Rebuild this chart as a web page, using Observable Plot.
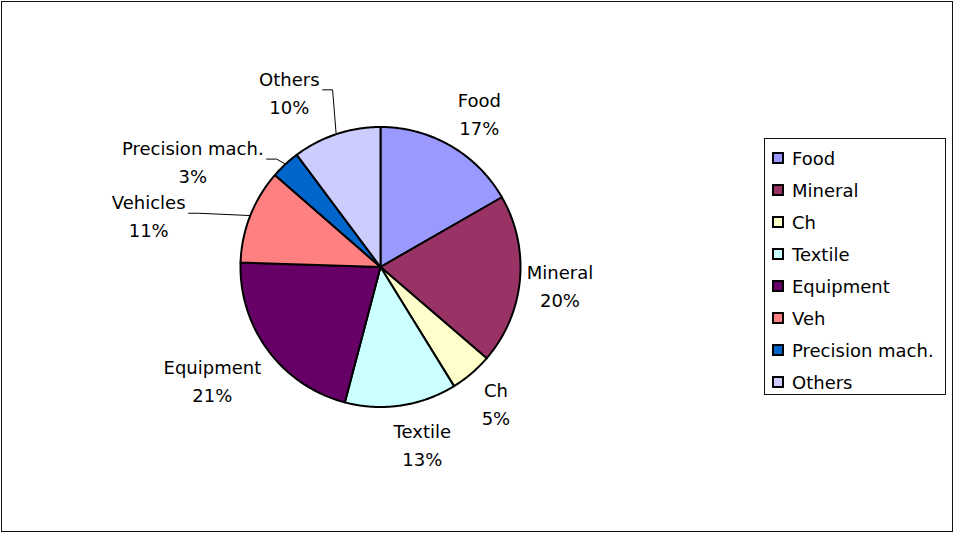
<!DOCTYPE html>
<html><head><meta charset="utf-8">
<script src="https://cdn.jsdelivr.net/npm/d3@7"></script>
<script src="https://cdn.jsdelivr.net/npm/@observablehq/plot@0.6"></script>
<style>
body{margin:0;background:#fff;}
#wrap{position:relative;width:954px;height:533px;overflow:hidden;background:#fff;}
#border{position:absolute;left:1px;top:1px;width:952px;height:531px;border:1px solid #111;box-sizing:border-box;pointer-events:none;}
#legend{position:absolute;left:764px;top:138px;width:182px;height:257px;border:1px solid #111;box-sizing:border-box;background:#fff;font-family:"DejaVu Sans";font-size:18px;color:#000;}
.item{position:absolute;left:0;height:32px;display:flex;align-items:center;white-space:nowrap;}
.sw{width:12px;height:12px;border:2px solid #000;box-sizing:border-box;margin-left:7px;margin-right:8px;}
</style></head>
<body>
<div id="wrap"><div id="chart"></div><div id="legend"></div><div id="border"></div></div>
<script>
// ---- data ----
const categories = ["Food","Mineral","Ch","Textile","Equipment","Vehicles","Precision mach.","Others"];
const legendLabels = ["Food","Mineral","Ch","Textile","Equipment","Veh","Precision mach.","Others"];
const shares = [16.7, 19.6, 4.9, 12.9, 21.4, 10.9, 3.4, 10.2];
const percentLabels = ["17%","20%","5%","13%","21%","11%","3%","10%"];
const colors = ["#9999FF","#993366","#FFFFCC","#CCFFFF","#660066","#FF8080","#0066CC","#CCCCFF"];

// ---- layout ----
const W = 954, H = 533, cx = 380, cy = 266.5, R = 140;
const FONT = "DejaVu Sans", FS = 18, LH = 28;
const labelGap = 11;               // gap between arc and label box
const leaderLabels = ["Vehicles", "Precision mach.", "Others"];
const nudge = {                    // label adjustments: [angle shift deg, extra px]
  "Food": [2.5, 2],
  "Mineral": [0, -6],
  "Textile": [-4.9, 3],
  "Equipment": [3.1, -2],
  "Vehicles": [-8.6, 44],
  "Precision mach.": [-17.5, 0],
  "Others": [-9, 16]
};

const arcs = d3.pie().sort(null).value(d => d).startAngle(0).endAngle(2 * Math.PI)(shares);

// slice polygons in unit coordinates
const slicePts = [];
arcs.forEach((a, i) => {
  const name = categories[i];
  slicePts.push({name, x: 0, y: 0});
  const n = Math.max(2, Math.ceil((a.endAngle - a.startAngle) / 0.01));
  for (let k = 0; k <= n; k++) {
    const t = a.startAngle + (a.endAngle - a.startAngle) * k / n;
    slicePts.push({name, x: Math.sin(t), y: Math.cos(t)});
  }
  slicePts.push({name, x: 0, y: 0});
});

// label placement
const ctx = document.createElement("canvas").getContext("2d");
ctx.font = `${FS}px "${FONT}"`;
const labels = [], leaders = [];
arcs.forEach((a, i) => {
  const name = categories[i];
  const w = Math.max(ctx.measureText(name).width, ctx.measureText(percentLabels[i]).width);
  const h = LH + FS;
  const th = (a.startAngle + a.endAngle) / 2;
  let dist = R + labelGap + Math.abs(Math.sin(th)) * w / 2 + Math.abs(Math.cos(th)) * h / 2;
  let ang = th;
  if (nudge[name]) {
    ang = th + nudge[name][0] * Math.PI / 180;
    dist += nudge[name][1];
  }
  const px = Math.sin(ang) * dist, py = -Math.cos(ang) * dist; // screen offsets
  labels.push({x: px / R, y: -py / R, text: name + "\n" + percentLabels[i]});
  if (leaderLabels.includes(name)) {
    const sx = px + w / 2 + 3, sy = py - 1;
    const ex = Math.sin(th) * (R + 1), ey = -Math.cos(th) * (R + 1);
    [[sx, sy], [sx + 10, sy], [ex, ey]].forEach(([X, Y]) => leaders.push({name, x: X / R, y: -Y / R}));
  }
});

const plot = Plot.plot({
  width: W, height: H,
  marginTop: 0, marginRight: 0, marginBottom: 0, marginLeft: 0,
  x: {domain: [-1, 1], range: [cx - R, cx + R], axis: null},
  y: {domain: [-1, 1], range: [cy + R, cy - R], axis: null},
  color: {type: "ordinal", domain: categories, range: colors},
  style: {background: "transparent"},
  marks: [
    Plot.line(slicePts, {x: "x", y: "y", z: "name", fill: "name", stroke: "#000", strokeWidth: 2, strokeLinejoin: "round"}),
    Plot.line(leaders, {x: "x", y: "y", z: "name", stroke: "#000", strokeWidth: 1}),
    Plot.text(labels, {x: "x", y: "y", text: "text", fontSize: FS, fontFamily: FONT, lineHeight: LH / FS, lineAnchor: "middle", textAnchor: "middle", fill: "#000"})
  ]
});
document.getElementById("chart").appendChild(plot);

// legend
const leg = document.getElementById("legend");
legendLabels.forEach((lab, i) => {
  const it = document.createElement("div");
  it.className = "item";
  it.style.top = (3 + i * 32) + "px";
  const sw = document.createElement("div");
  sw.className = "sw";
  sw.style.background = colors[i];
  const tx = document.createElement("span");
  tx.textContent = lab;
  it.appendChild(sw); it.appendChild(tx);
  leg.appendChild(it);
});
</script>
</body></html>
